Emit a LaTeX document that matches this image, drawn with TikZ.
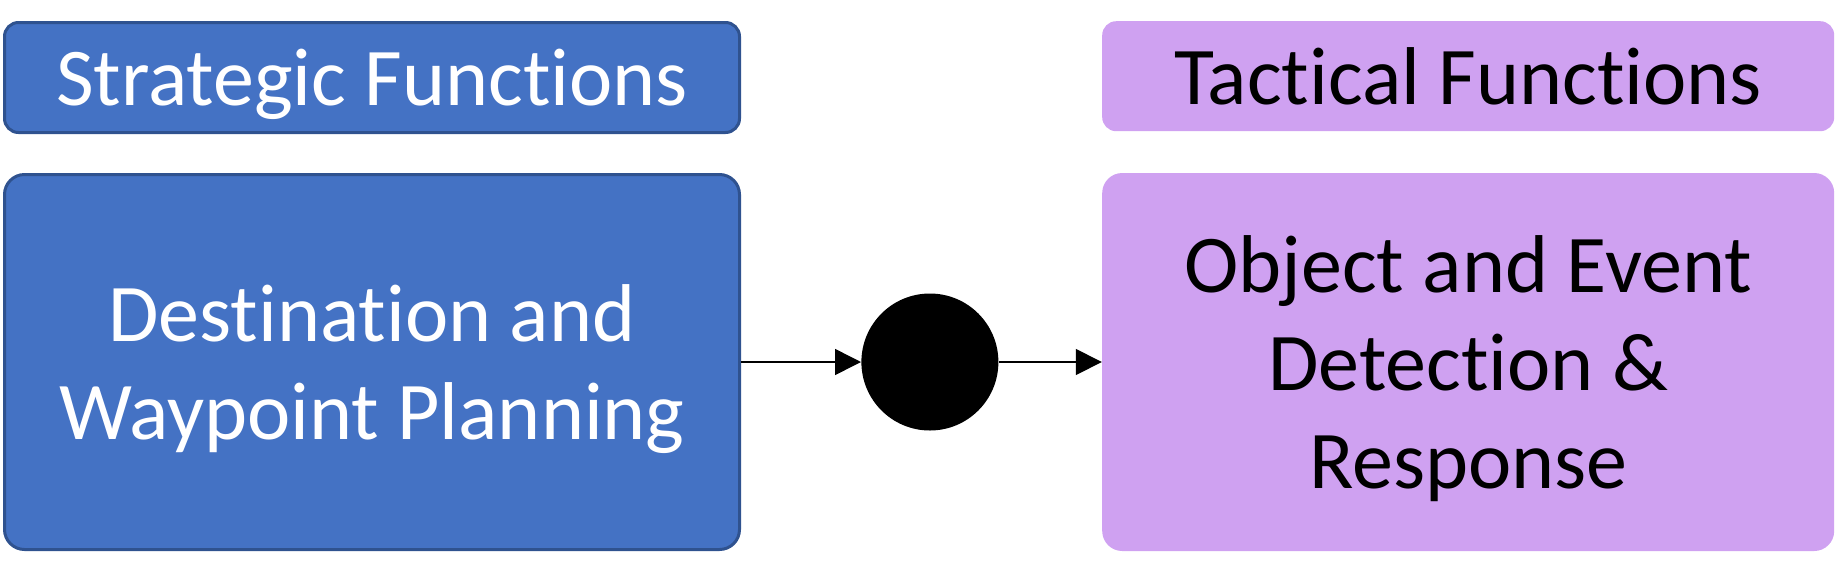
\documentclass[tikz,border=0pt]{standalone}
\usepackage{fontspec}
\setmainfont[Ligatures=NoCommon]{Carlito}
\usetikzlibrary{positioning,arrows.meta}
\definecolor{stratblue}{RGB}{68,114,196}
\definecolor{stratedge}{RGB}{47,82,143}
\definecolor{tactpurple}{RGB}{207,161,241}

\begin{document}
\begin{tikzpicture}[
strat/.style={draw=stratedge, line width=1.5pt, fill=stratblue, text=white, rounded corners=7pt, align=center, minimum width=367.5pt},
tact/.style={fill=tactpurple, text=black, rounded corners=7pt, align=center, minimum width=366pt},
bigfont/.style={font=\fontsize{41}{49}\selectfont, text depth=0pt},
flow/.style={-{Triangle[length=13pt,width=13pt]}, line width=0.75pt},
]
\useasboundingbox (0,0) rectangle (918.5pt,-281.5pt);
% strategic side
\node[strat, bigfont, minimum height=55pt] (strategic) at (186pt,-38.75pt) {Strategic Functions};
\node[strat, bigfont, minimum height=187.5pt, rounded corners=10pt, below=19.5pt of strategic] (planning) {Destination and\\Waypoint Planning};
% junction between the two sides
\node[circle, fill=black, minimum size=68.5pt, inner sep=0pt, right=60pt of planning] (junction) {};
\draw[flow] (planning.east) -- (junction.west);
% tactical side
\node[tact, bigfont, minimum height=189pt, rounded corners=10pt, right=51.5pt of junction] (detection) {Object and Event\\Detection \&\\Response};
\node[tact, bigfont, minimum height=55pt, above=20.5pt of detection] (tactical) {Tactical Functions};
\draw[flow] (junction.east) -- (detection.west);
\end{tikzpicture}
\end{document}
